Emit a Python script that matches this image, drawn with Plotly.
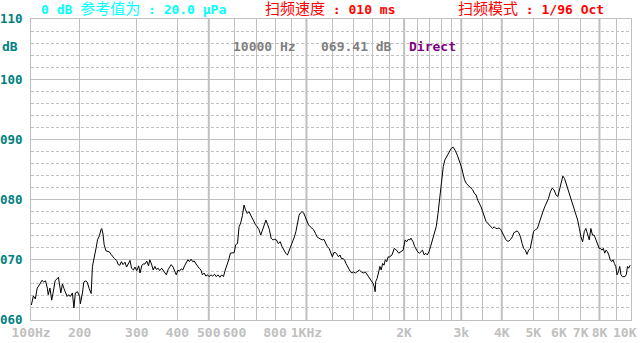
import plotly.graph_objects as go
import math

# ---- data ----
freq_hz = [142, 144, 146, 148, 151, 153, 155, 157, 159, 160, 162, 164, 166, 168, 170, 172, 175, 177, 179, 181,
           183, 185, 187, 190, 192, 194, 197, 200, 201, 204, 206, 209, 211, 214, 217, 219, 222, 225, 227, 230,
           233, 234, 236, 238, 241, 244, 247, 250, 253, 256, 260, 263, 266, 269, 272, 276, 279, 282, 286, 289,
           293, 296, 300, 304, 307, 311, 314, 318, 322, 326, 329, 333, 337, 341, 345, 349, 353, 358, 362, 366,
           370, 375, 379, 383, 388, 393, 397, 402, 406, 411, 416, 421, 426, 431,
           436, 441, 446, 451, 457, 462, 467, 473, 478, 484, 490, 496, 501, 508, 514, 521, 527, 534, 541, 548,
           555, 562, 569, 576, 583, 599, 605, 613, 620, 627, 635, 642, 649, 657, 665, 673, 681, 689, 697, 705,
           714, 723, 732, 741, 750, 760, 769, 778, 788, 798, 808, 819, 830, 841, 852, 863, 874, 886, 898, 908,
           918, 928, 938, 949, 959, 969, 980, 991, 1002, 1015, 1027, 1039, 1052, 1066, 1078, 1092, 1105, 1118,
           1132, 1146, 1160, 1174, 1189, 1202, 1215, 1229, 1242,
           1255, 1269, 1282, 1296, 1310, 1324, 1338, 1353, 1367, 1382, 1398, 1415, 1436, 1456, 1476, 1497, 1518,
           1539, 1560, 1583, 1603, 1619, 1628, 1635, 1651, 1667, 1684, 1700, 1717, 1734, 1750, 1768, 1786, 1805,
           1835, 1865, 1894, 1925, 1956, 1986, 2014, 2037, 2059, 2083, 2098, 2131, 2156, 2181, 2204, 2230, 2255,
           2279, 2306, 2332, 2357, 2384, 2413, 2445, 2478, 2512, 2544, 2579, 2612, 2641, 2671, 2702, 2731, 2763,
           2794, 2832, 2873, 2916, 2956, 3000, 3036, 3070, 3107, 3144, 3180, 3218, 3257, 3293, 3332, 3372, 3411,
           3452, 3493, 3532, 3575, 3618, 3658, 3702, 3747, 3790, 3835, 3881, 3925, 3972, 4020, 4065, 4113, 4162,
           4209, 4259, 4310, 4358, 4410, 4462, 4512, 4567, 4621, 4673, 4729, 4785, 4839, 4896, 4954, 5012, 5080,
           5149, 5214, 5285, 5357, 5425, 5499, 5573, 5645, 5722, 5800, 5873, 5952, 6030, 6098, 6170, 6244, 6315,
           6391, 6467, 6541, 6619, 6698, 6773, 6854, 6937, 7015, 7099, 7185, 7266, 7353, 7442, 7525, 7616, 7707,
           7795, 7889, 7984, 8062, 8142, 8225, 8303, 8386, 8470, 8551, 8637, 8724, 8806, 8895, 8983, 9065, 9151,
           9238, 9320, 9409, 9497, 9582, 9673, 9765, 9850, 9944]

level_db = [62.5, 64.0, 63.5, 65.3, 66.0, 66.6, 66.3, 66.5, 65.3, 64.2, 65.3, 63.3, 64.8, 66.5, 66.8, 67.1, 64.5, 66.0, 65.2, 64.5,
            63.9, 64.2, 63.9, 64.5, 62.0, 64.5, 64.7, 63.9, 62.7, 64.5, 66.3, 66.5, 66.3, 65.2, 64.4, 68.9, 70.3, 72.1, 73.3, 74.0,
            75.1, 75.2, 74.3, 72.5, 71.5, 71.4, 71.3, 70.9, 70.5, 70.2, 69.9, 69.2, 69.1, 69.7, 69.2, 69.6, 68.8, 69.3, 69.9, 68.6,
            68.3, 68.8, 68.2, 69.0, 67.8, 69.1, 69.3, 69.3, 69.8, 69.0, 70.0, 69.3, 68.3, 68.9, 68.4, 68.6, 68.2, 68.6, 68.2, 67.8,
            67.5, 68.4, 68.9, 69.2, 68.8, 68.2, 67.5, 68.3, 68.1, 68.5, 68.3, 69.0, 69.4, 70.0,
            69.7, 70.1, 69.7, 69.8, 69.3, 68.9, 68.6, 68.3, 67.5, 67.8, 67.3, 67.5, 67.2, 67.5, 67.3, 67.6, 67.2, 67.5, 67.1, 67.5,
            67.2, 68.3, 69.1, 70.0, 71.1, 71.2, 72.5, 72.7, 75.5, 76.1, 77.4, 79.1, 78.3, 77.7, 78.0, 77.4, 76.9, 76.1, 75.8, 75.5,
            75.0, 74.1, 75.0, 75.5, 76.6, 75.8, 75.0, 73.6, 73.3, 73.4, 73.3, 72.7, 73.0, 72.2, 71.6, 71.1, 70.8, 71.6, 72.7, 73.3,
            73.8, 74.7, 76.1, 77.4, 77.8, 78.0, 77.8, 77.2, 76.3, 75.8, 75.5, 75.2, 75.0, 74.4, 73.8, 73.6, 73.4, 73.3,
            73.4, 72.7, 72.2, 71.9, 71.1, 70.5, 71.2, 71.2, 70.9,
            70.5, 70.8, 70.2, 70.2, 70.0, 69.4, 68.9, 68.3, 68.0, 67.8, 68.0, 67.8, 68.0, 68.3, 68.0, 67.8, 68.0,
            67.5, 66.9, 66.4, 66.1, 65.5, 64.7, 66.4, 66.9, 67.8, 68.9, 68.3, 69.4, 69.1, 70.0, 69.7, 70.5, 70.5,
            70.8, 71.9, 71.6, 71.1, 71.3, 71.6, 73.3, 73.0, 73.4, 73.3, 73.6, 73.0, 72.2, 71.6, 71.3, 71.1, 71.3,
            71.6, 70.8, 71.1, 70.8, 71.3, 72.2, 73.3, 74.1, 75.5, 77.7, 80.5, 83.3, 85.5, 86.6, 87.1, 87.7, 88.0,
            88.5, 88.7, 88.2, 87.4, 86.6, 85.5, 84.4, 83.3, 82.7, 82.4, 82.1, 81.9, 81.6, 81.0, 80.8, 79.9, 79.4,
            78.8, 78.0, 77.0, 76.4, 76.1, 75.8, 75.5, 75.2, 75.5, 75.2, 75.2, 75.3, 75.0, 74.4, 73.8, 73.4, 73.1,
            73.1, 73.4, 73.8, 74.5, 74.7, 74.8, 74.5, 73.8, 72.7, 71.9, 71.6, 70.9, 71.6, 71.9, 73.3, 74.7, 75.0,
            75.2, 76.1, 77.2, 78.0, 78.8, 79.4, 80.2, 81.3, 81.9, 81.6, 80.8, 80.5, 81.6, 83.0, 83.9, 83.5, 82.7,
            81.9, 81.0, 79.9, 79.1, 78.3, 77.4, 76.6, 75.2, 73.8, 73.0, 74.7, 75.2, 74.4, 73.3, 75.2, 74.1, 74.1,
            73.3, 72.7, 71.9, 71.9, 71.6, 71.9, 71.1, 71.6, 71.3, 70.8, 70.0, 69.7, 70.0, 69.4, 68.9, 67.5, 68.0,
            68.9, 67.5, 67.2, 67.2, 67.2, 67.5, 68.9, 68.6, 69.1]

x_left_hz = 141.7   # left edge of the display (labelled "100Hz")
x_right_hz = 10000
label_freqs = [141.7, 200, 300, 400, 500, 600, 800, 1000, 2000, 3000, 4000, 5000, 6000, 7000, 8000, 10000]
label_texts = ["100Hz", "200", "300", "400", "500", "600", "800", "1KHz", "2K", "3k", "4K", "5K", "6K", "7K", "8K", "10K"]
minor_grid_freqs = [700, 900, 1200, 1400, 1600, 1800, 2200, 2400, 2600, 2800, 3500, 9000]
heavy_grid_freqs = [500, 1000, 2000, 3000, 4000, 8000]
y_ticks = [60, 70, 80, 90, 100, 110]
y_tick_texts = ["060", "070", "080", "090", "100", "110"]

FONT = "DejaVu Sans Mono, Noto Sans CJK SC, monospace"
CJK = '<span style="font-size:15px;font-weight:normal">{}</span>'

W, H = 640, 343
L, R, T, B = 31, 9, 19, 23
pw, ph = W - L - R, H - T - B

def px(x):
    return (x - L) / pw

def py(y):
    return (H - B - y) / ph

fig = go.Figure()
fig.add_trace(go.Scatter(x=freq_hz, y=level_db, mode="lines",
                         line=dict(color="black", width=1), hoverinfo="skip", showlegend=False))

shapes = []
for f in heavy_grid_freqs:
    shapes.append(dict(type="line", xref="x", yref="paper", x0=f, x1=f, y0=0, y1=1,
                       line=dict(color="#c0c0c0", width=2), layer="below"))

ann = []
def add(text, x, y, color, xanchor="left"):
    ann.append(dict(text=text, x=x, y=py(y), xref="paper", yref="paper", xanchor=xanchor,
                    yanchor="middle", showarrow=False,
                    font=dict(family=FONT, size=13, color=color, weight="bold")))

add("0 dB " + CJK.format("参考值为") + " : 20.0 μPa", px(39), 9, "#00ffff")
add(CJK.format("扫频速度") + " : 010 ms", px(263), 9, "#ff0000")
add(CJK.format("扫频模式") + " : 1/96 Oct", px(456), 9, "#ff0000")
add("10000 Hz", px(231), 46, "#808080")
add("069.41 dB", px(319), 46, "#808080")
add("Direct", px(407), 46, "#800080")
add("dB", px(0), 46, "#008080")
# the last x label sits at the right edge, so it is drawn right-aligned to stay inside the page
add(label_texts[-1], px(639), 332, "#c0c0c0", xanchor="right")
tick_texts_axis = label_texts[:-1] + [""]

fig.update_layout(
    width=W, height=H,
    margin=dict(l=L, r=R, t=T, b=B, pad=0, autoexpand=False),
    paper_bgcolor="white", plot_bgcolor="white",
    font=dict(family=FONT, size=13),
    shapes=shapes, annotations=ann,
    xaxis=dict(type="log", range=[math.log10(x_left_hz) - 0.0003, math.log10(x_right_hz) + 0.0003],
               tickmode="array", tickvals=label_freqs, ticktext=tick_texts_axis, tickangle=0,
               tickfont=dict(color="#c0c0c0", size=13, family=FONT, weight="bold"),
               showgrid=True, gridcolor="#c0c0c0", gridwidth=1,
               minor=dict(tickmode="array", tickvals=minor_grid_freqs, showgrid=True,
                          gridcolor="#c0c0c0", gridwidth=1, ticks=""),
               showline=True, linecolor="#c0c0c0", linewidth=1, mirror=True, automargin=False,
               ticks="", ticklabelstandoff=0, zeroline=False, fixedrange=True),
    yaxis=dict(range=[60, 110], tickmode="array", tickvals=y_ticks, ticktext=y_tick_texts,
               tickfont=dict(color="#008080", size=12.5, family=FONT, weight="bold"),
               showgrid=True, gridcolor="#c0c0c0", gridwidth=1,
               minor=dict(dtick=2, tick0=60, showgrid=True, gridcolor="#c0c0c0", gridwidth=1,
                          griddash="3px,2px", ticks=""),
               showline=True, linecolor="#c0c0c0", linewidth=1, mirror=True, automargin=False,
               ticks="", ticklabelstandoff=5, zeroline=False, fixedrange=True),
)

fig.write_html("out.html")
